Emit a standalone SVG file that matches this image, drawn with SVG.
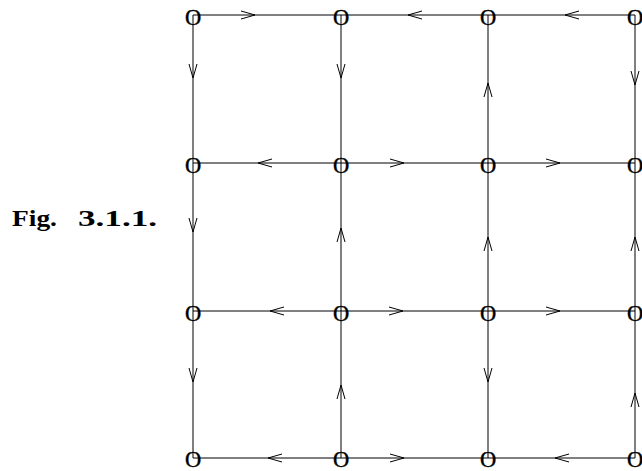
<svg xmlns="http://www.w3.org/2000/svg" width="642" height="471" viewBox="0 0 642 471">
<style>
.e{fill:none;stroke:#000;stroke-width:1;marker-mid:url(#ah)}
.n{font-family:"Liberation Serif","Times New Roman",serif;font-size:22.5px;text-anchor:middle;fill:#000;stroke:#000;stroke-width:0.4}
.t{font-family:"Liberation Serif","Times New Roman",serif;font-size:23px;font-weight:bold;fill:#000}
</style>
<defs>
<marker id="ah" viewBox="0 0 16 10" markerWidth="16" markerHeight="10" refX="15" refY="5" orient="auto" markerUnits="userSpaceOnUse">
<path d="M1,1 L15,5 L1,9" fill="none" stroke="#000" stroke-width="1"/>
</marker>
</defs>
<rect width="642" height="471" fill="#fff"/>
<g id="connectors">
<path class="e" d="M193,15 L255,15 L341,15"/>
<path class="e" d="M488,15 L408,15 L341,15"/>
<path class="e" d="M635,15 L565,15 L488,15"/>
<path class="e" d="M341,163 L258,163 L193,163"/>
<path class="e" d="M341,163 L404,163 L488,163"/>
<path class="e" d="M488,163 L560,163 L635,163"/>
<path class="e" d="M341,311 L270,311 L193,311"/>
<path class="e" d="M341,311 L403,311 L488,311"/>
<path class="e" d="M488,311 L560,311 L635,311"/>
<path class="e" d="M341,458 L268,458 L193,458"/>
<path class="e" d="M341,458 L404,458 L488,458"/>
<path class="e" d="M635,458 L555,458 L488,458"/>
<path class="e" d="M193,15 L193,78 L193,163"/>
<path class="e" d="M193,163 L193,232 L193,311"/>
<path class="e" d="M193,311 L193,382 L193,458"/>
<path class="e" d="M341,15 L341,78 L341,163"/>
<path class="e" d="M341,311 L341,228 L341,163"/>
<path class="e" d="M341,458 L341,385 L341,311"/>
<path class="e" d="M488,163 L488,83 L488,15"/>
<path class="e" d="M488,311 L488,237 L488,163"/>
<path class="e" d="M488,311 L488,382 L488,458"/>
<path class="e" d="M635,15 L635,85 L635,163"/>
<path class="e" d="M635,311 L635,237 L635,163"/>
<path class="e" d="M635,458 L635,393 L635,311"/>
</g>
<g id="n00"><text class="n" x="193" y="25">O</text></g>
<g id="n10"><text class="n" x="341" y="25">O</text></g>
<g id="n20"><text class="n" x="488" y="25">O</text></g>
<g id="n30"><text class="n" x="635" y="25">O</text></g>
<g id="n01"><text class="n" x="193" y="173">O</text></g>
<g id="n11"><text class="n" x="341" y="173">O</text></g>
<g id="n21"><text class="n" x="488" y="173">O</text></g>
<g id="n31"><text class="n" x="635" y="173">O</text></g>
<g id="n02"><text class="n" x="193" y="321">O</text></g>
<g id="n12"><text class="n" x="341" y="321">O</text></g>
<g id="n22"><text class="n" x="488" y="321">O</text></g>
<g id="n32"><text class="n" x="635" y="321">O</text></g>
<g id="n03"><text class="n" x="193" y="467">O</text></g>
<g id="n13"><text class="n" x="341" y="467">O</text></g>
<g id="n23"><text class="n" x="488" y="467">O</text></g>
<g id="n33"><text class="n" x="635" y="467">O</text></g>
<g id="caption"><text class="t" y="226"><tspan x="12" textLength="45" lengthAdjust="spacingAndGlyphs">Fig.</tspan><tspan x="78" textLength="79" lengthAdjust="spacingAndGlyphs">3.1.1.</tspan></text></g>
</svg>
